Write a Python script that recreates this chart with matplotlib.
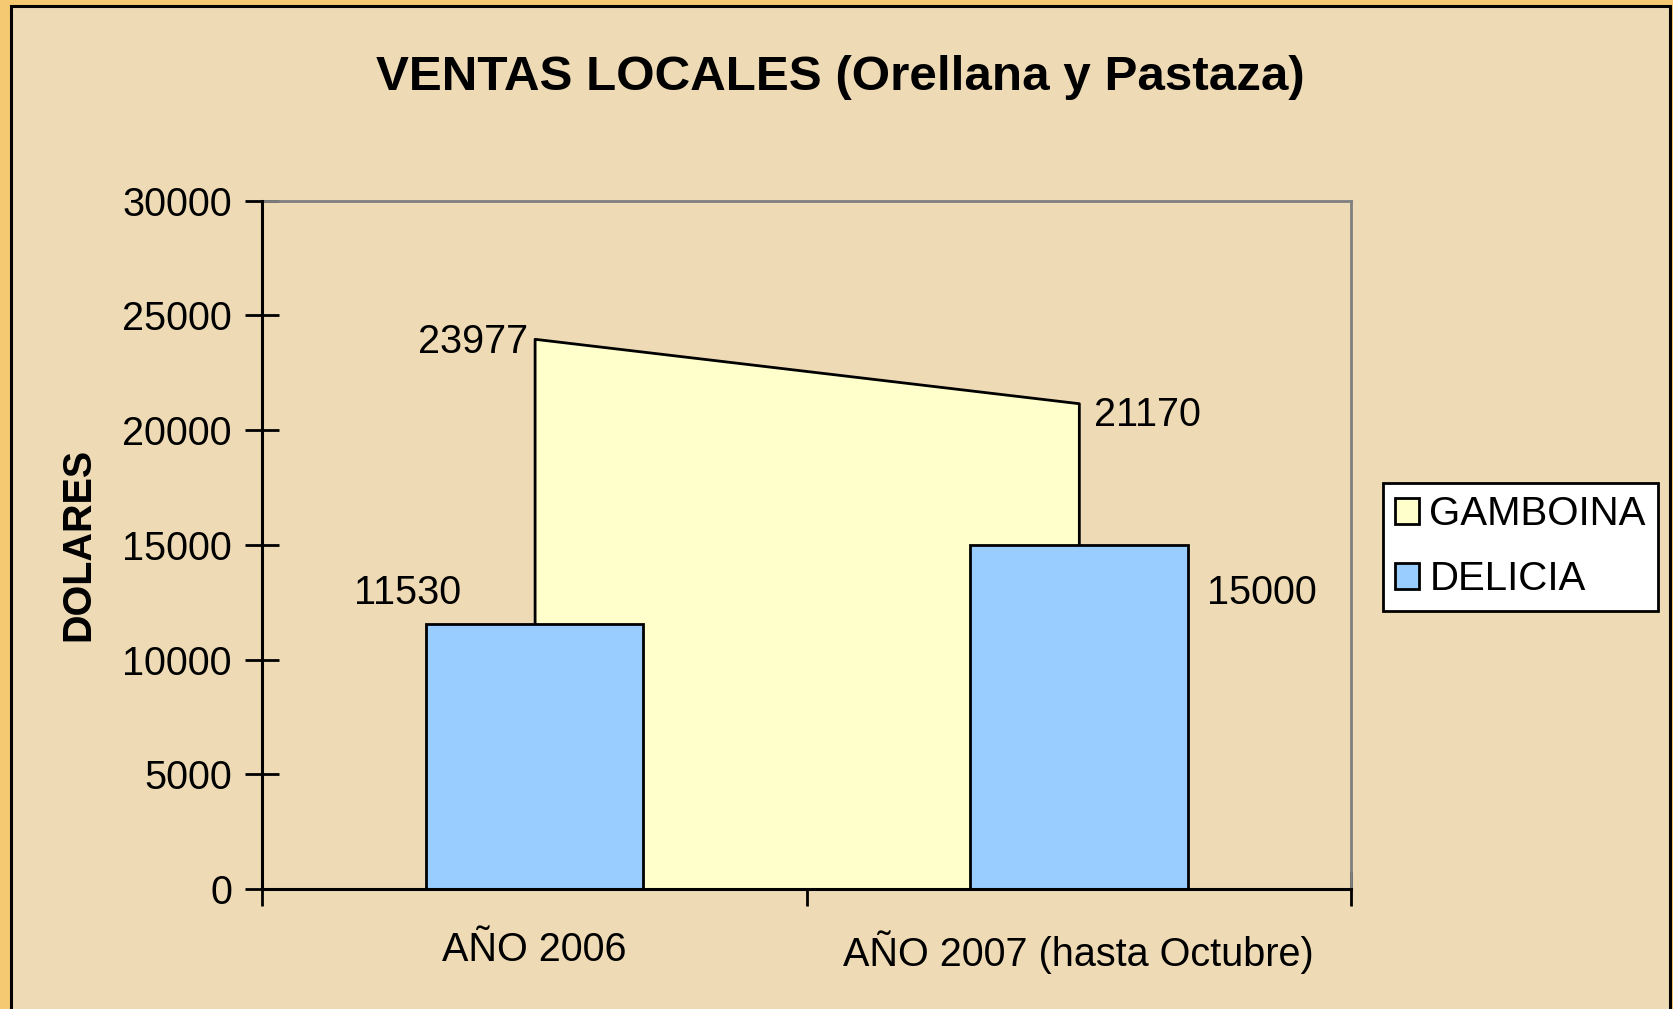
import matplotlib.pyplot as plt
from matplotlib.patches import Rectangle, Patch

plt.rcParams['font.family'] = ['Liberation Sans', 'DejaVu Sans']

# datos
categorias = ['AÑO 2006', 'AÑO 2007 (hasta Octubre)']
gamboina = [23977, 21170]
delicia = [11530, 15000]
y_ticks = [0, 5000, 10000, 15000, 20000, 25000, 30000]

fondo = '#EEDBB5'
amarillo = '#FFFFCC'
azul = '#99CCFF'

fig = plt.figure(figsize=(16.73, 10.09), dpi=100)
fig.patch.set_facecolor('#F5C872')
# marco negro con fondo pergamino
marco = Rectangle((10.5 / 1673, -0.01), (1669.5 - 10.5) / 1673, 1 - 5.5 / 1009 + 0.01,
                  transform=fig.transFigure, facecolor=fondo,
                  edgecolor='black', linewidth=2.2, zorder=-10)
fig.patches.append(marco)

ax = fig.add_axes([0.1569, 0.1189, 0.6506, 0.6823])
ax.set_facecolor('none')

x = list(range(len(categorias)))

# GAMBOINA como area
ax.fill_between(x, gamboina, 0, facecolor=amarillo, edgecolor='black',
                linewidth=2, zorder=2)
# DELICIA como barras
ax.bar(x, delicia, width=0.4, color=azul, edgecolor='black', linewidth=2, zorder=3)

fs = 28.5
ax.set_xlim(-0.5, 1.5)
ax.set_ylim(0, 30000)
ax.set_yticks(y_ticks)
ax.set_xticks([-0.5, 0.5, 1.5])
ax.set_xticklabels([])
ax.set_xticks(x, minor=True)
ax.set_xticklabels(categorias, minor=True)
ax.tick_params(axis='x', which='minor', length=0, pad=30, labelsize=fs)
ax.tick_params(axis='x', which='major', direction='inout', length=24, width=2)
ax.tick_params(axis='y', direction='inout', length=24, width=2, labelsize=fs, pad=10)

for s in ['top', 'right']:
    ax.spines[s].set_color('#808080')
    ax.spines[s].set_linewidth(2)
for s in ['left', 'bottom']:
    ax.spines[s].set_color('black')
    ax.spines[s].set_linewidth(2.2)
    ax.spines[s].set_zorder(5)

# etiquetas de datos
ax.text(-0.012, gamboina[0] - 150, str(gamboina[0]), ha='right', va='center', fontsize=fs)
ax.text(1.027, gamboina[1] - 520, str(gamboina[1]), ha='left', va='center', fontsize=fs)
ax.text(-0.233, delicia[0] + 1360, str(delicia[0]), ha='center', va='center', fontsize=fs)
ax.text(1.336, delicia[1] - 2110, str(delicia[1]), ha='center', va='center', fontsize=fs)

ax.set_ylabel('DOLARES', fontsize=fs, fontweight='bold', labelpad=18)

fig.text(840 / 1673, 1 - 77 / 1009, 'VENTAS LOCALES (Orellana y Pastaza)',
         ha='center', va='center', fontsize=35.6, fontweight='bold')

handles = [Patch(facecolor=amarillo, edgecolor='black', linewidth=2, label='GAMBOINA'),
           Patch(facecolor=azul, edgecolor='black', linewidth=2, label='DELICIA')]
leg = fig.legend(handles=handles, loc='upper left',
                 bbox_to_anchor=(1383 / 1673, 1 - 483 / 1009),
                 fontsize=29, frameon=True, fancybox=False, framealpha=1,
                 edgecolor='black', handlelength=0.6, handleheight=0.6,
                 handletextpad=0.25, borderpad=0.3, labelspacing=0.68,
                 borderaxespad=0)
leg.get_frame().set_linewidth(2)

fig.savefig('out.png', dpi=100, facecolor=fig.get_facecolor())
